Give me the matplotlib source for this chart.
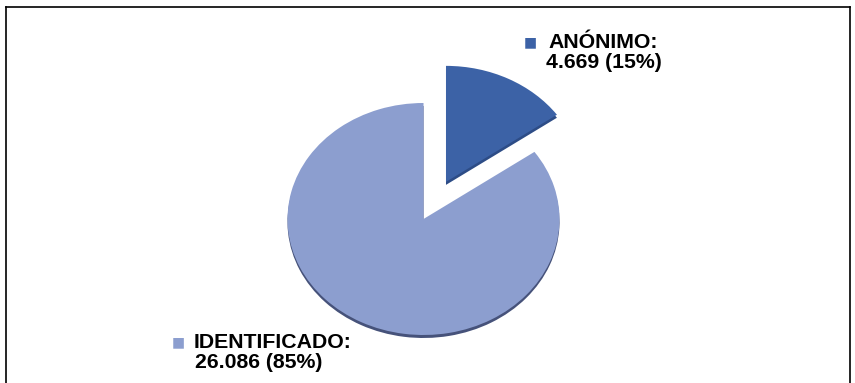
import matplotlib.pyplot as plt
from matplotlib.lines import Line2D

# data
labels = ['ANÓNIMO', 'IDENTIFICADO']
counts = [4669, 26086]
count_text = ['4.669', '26.086']
pct_text = ['15%', '85%']
colors = ['#3C62A6', '#8C9ECF']
rim_colors = ['#2D4C86', '#46527A']

W, H = 855, 383
plt.rcParams['font.family'] = ['Liberation Sans', 'DejaVu Sans']

fig = plt.figure(figsize=(W / 100, H / 100), dpi=100)
ax = fig.add_axes([0, 0, 1, 1])

# tilted look: vertical scale squashed (ry/rx ~ 116/136)
sq = 136 / 116
center = (423.5, (H - 219) * sq)
radius = 136
explode = [49, 0]

# darker copy a few px lower gives the 3D rim
ax.pie(counts, colors=rim_colors, startangle=90, counterclock=False,
       explode=explode, radius=radius, center=(center[0], center[1] - 3 * sq),
       wedgeprops=dict(linewidth=0), frame=True)
ax.pie(counts, colors=colors, startangle=90, counterclock=False,
       explode=explode, radius=radius, center=center,
       wedgeprops=dict(linewidth=0), frame=True)

ax.set_aspect('auto')
ax.set_xlim(0, W)
ax.set_ylim(0, H * sq)
ax.axis('off')

# labels
def label(x_sq, x_txt, y, i, x2):
    fig.text(x_sq / W, 1 - y / H, '■', color=colors[i], fontsize=10,
             ha='center', va='center', family=['DejaVu Sans'])
    fig.text(x_txt / W, 1 - y / H, labels[i] + ':', fontsize=15.3,
             fontweight='bold', ha='left', va='center')
    fig.text(x2 / W, 1 - (y + 20) / H, '%s (%s)' % (count_text[i], pct_text[i]),
             fontsize=15.3, fontweight='bold', ha='left', va='center')

label(530, 548, 42, 0, 546)
label(178, 194, 342, 1, 195)

# border (open at the bottom)
for xs, ys in [([6, 6], [0, H - 7]), ([6, 850], [H - 7, H - 7]), ([850, 850], [H - 7, 0])]:
    fig.add_artist(Line2D([x / W for x in xs], [y / H for y in ys],
                          color='black', linewidth=1.2))

fig.savefig('out.png', dpi=100)
